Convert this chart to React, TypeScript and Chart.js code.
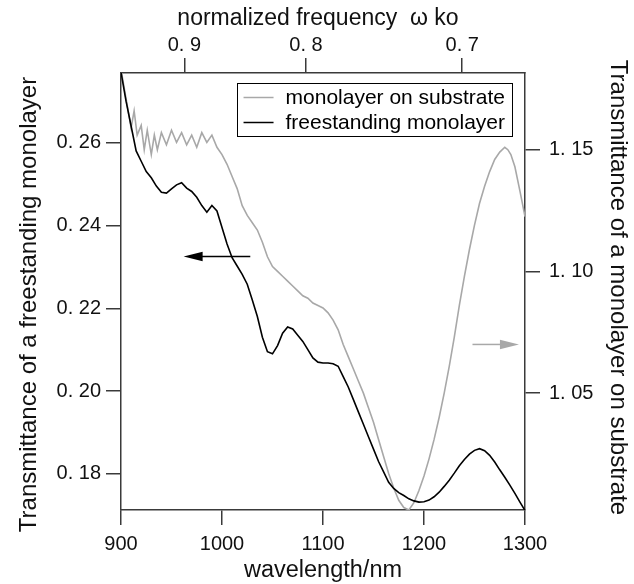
import { useEffect, useRef } from 'react';
import { Chart, registerables } from 'chart.js';

Chart.register(...registerables);

// ---- data ----
const freestandingWavelengths = [
  900, 905, 910, 915, 920, 925, 930, 935, 940, 945, 950, 955, 960, 965, 970, 975, 980, 985, 990, 995,
  1000, 1005, 1010, 1015, 1020, 1025, 1030, 1035, 1040, 1045, 1050, 1055, 1060, 1065, 1070, 1075, 1080,
  1085, 1090, 1095, 1100, 1105, 1110, 1115, 1120, 1125, 1130, 1135, 1140, 1145, 1150, 1155, 1160, 1165,
  1170, 1175, 1180, 1185, 1190, 1195, 1200, 1205, 1210, 1215, 1220, 1225, 1230, 1235, 1240, 1245, 1250,
  1255, 1260, 1265, 1270, 1275, 1280, 1285, 1290, 1295, 1300,
];
const freestandingValues = [
  0.277, 0.27, 0.264, 0.258, 0.2555, 0.253, 0.2515, 0.2495, 0.248, 0.2478, 0.2488, 0.2498, 0.2503, 0.249,
  0.2482, 0.2468, 0.2448, 0.2432, 0.2448, 0.2435, 0.2395, 0.2355, 0.2322, 0.2302, 0.2282, 0.2258, 0.222,
  0.218, 0.213, 0.2095, 0.209, 0.211, 0.214, 0.2155, 0.215, 0.2135, 0.212, 0.21, 0.208, 0.207, 0.2068,
  0.2068, 0.2066, 0.206, 0.2035, 0.201, 0.198, 0.195, 0.192, 0.189, 0.186, 0.183, 0.1805, 0.178, 0.1765,
  0.1755, 0.1748, 0.174, 0.1735, 0.1732, 0.1733, 0.1737, 0.1745, 0.1756, 0.177, 0.1785, 0.1802, 0.182,
  0.1835, 0.1848, 0.1857, 0.1861, 0.1856, 0.1845, 0.1829, 0.181, 0.1792, 0.1773, 0.1753, 0.1732, 0.1712,
];
const substrateWavelengths = [
  900, 905, 910, 913, 916, 920, 923, 926, 930, 933, 936, 940, 945, 950, 955, 960, 965, 970, 975, 980,
  985, 990, 995, 1000, 1005, 1010, 1015, 1020, 1025, 1030, 1035, 1040, 1045, 1050, 1055, 1060, 1065,
  1070, 1075, 1080, 1085, 1090, 1095, 1100, 1105, 1110, 1115, 1120, 1125, 1130, 1135, 1140, 1145, 1150,
  1155, 1160, 1165, 1170, 1175, 1180, 1185, 1190, 1195, 1200, 1205, 1210, 1215, 1220, 1225, 1230, 1235,
  1240, 1245, 1250, 1255, 1260, 1265, 1270, 1275, 1280, 1283, 1286, 1290, 1295, 1300,
];
const substrateValues = [
  1.183, 1.171, 1.159, 1.166, 1.156, 1.16, 1.15, 1.158, 1.148, 1.156, 1.15, 1.157, 1.152, 1.158, 1.153,
  1.157, 1.152, 1.156, 1.151, 1.157, 1.153, 1.156, 1.151, 1.148, 1.144, 1.139, 1.134, 1.127, 1.123, 1.12,
  1.117, 1.112, 1.106, 1.102, 1.1, 1.098, 1.096, 1.094, 1.092, 1.09, 1.089, 1.087, 1.086, 1.085, 1.083,
  1.08, 1.076, 1.07, 1.065, 1.06, 1.055, 1.05, 1.044, 1.038, 1.031, 1.024, 1.017, 1.011, 1.006, 1.003,
  1.002, 1.005, 1.01, 1.016, 1.023, 1.031, 1.04, 1.05, 1.061, 1.073, 1.086, 1.098, 1.109, 1.119, 1.128,
  1.135, 1.141, 1.146, 1.149, 1.151, 1.15, 1.148, 1.143, 1.133, 1.1225,
];

const bottomTicks = [900, 1000, 1100, 1200, 1300];
const leftTicks = [0.18, 0.2, 0.22, 0.24, 0.26];
const rightTicks = [1.05, 1.1, 1.15];
const topTickFrequencies = [0.9, 0.8, 0.7];
const frequencyConstantNm = 866.5; // normalized frequency = constant / wavelength

const seriesLabels = ['monolayer on substrate', 'freestanding monolayer'];
const axisTitles = {
  bottom: 'wavelength/nm',
  top: 'normalized frequency  \u03c9 ko',
  left: 'Transmittance of a freestanding monolayer',
  right: 'Transmittance of a monolayer on substrate',
};
const arrowSpecs = [
  { from: 1028, to: 962, y: 0.2325, axis: 'y', color: '#000000' },
  { from: 1248, to: 1294, y: 1.07, axis: 'yR', color: '#a8a8a8' },
];

const FONT = "'Liberation Sans', Arial, Helvetica, sans-serif";
const AXIS_COLOR = '#3a3a3a';
const GRAY = '#a8a8a8';

const fmtSpaced = (v: number, digits: number) => v.toFixed(digits).replace('.', '. ');

const arrowPlugin = {
  id: 'arrowsPlugin',
  afterDatasetsDraw(chart: any) {
    const ctx = chart.ctx;
    const xs = chart.scales.x;
    arrowSpecs.forEach((a) => {
      const ys = chart.scales[a.axis];
      const x1 = xs.getPixelForValue(a.from);
      const x2 = xs.getPixelForValue(a.to);
      const y = ys.getPixelForValue(a.y);
      const dir = Math.sign(x2 - x1);
      const headLen = 19;
      const headHalf = 4.8;
      ctx.save();
      ctx.strokeStyle = a.color;
      ctx.fillStyle = a.color;
      ctx.lineWidth = 1.5;
      ctx.beginPath();
      ctx.moveTo(x1, y);
      ctx.lineTo(x2 - dir * headLen + dir * 2, y);
      ctx.stroke();
      ctx.beginPath();
      ctx.moveTo(x2, y);
      ctx.lineTo(x2 - dir * headLen, y - headHalf);
      ctx.lineTo(x2 - dir * headLen, y + headHalf);
      ctx.closePath();
      ctx.fill();
      ctx.restore();
    });
  },
};

const titlesPlugin = {
  id: 'axisTitles',
  afterDraw(chart: any) {
    const ctx = chart.ctx;
    const area = chart.chartArea;
    const W = chart.width;
    const H = chart.height;
    const cx = (area.left + area.right) / 2;
    const cy = (area.top + area.bottom) / 2;
    ctx.save();
    ctx.fillStyle = '#111';
    ctx.textAlign = 'center';
    ctx.textBaseline = 'middle';
    // bottom
    ctx.font = `23.5px ${FONT}`;
    ctx.fillText(axisTitles.bottom, cx, H - 13);
    // top
    ctx.font = `23px ${FONT}`;
    ctx.fillText(axisTitles.top, cx - 5, 19);
    // left (reads bottom to top)
    ctx.save();
    ctx.font = `24px ${FONT}`;
    ctx.translate(29, cy + 13);
    ctx.rotate(-Math.PI / 2);
    ctx.fillText(axisTitles.left, 0, 0);
    ctx.restore();
    // right (reads top to bottom)
    ctx.save();
    ctx.font = `24px ${FONT}`;
    ctx.translate(W - 16, cy - 4);
    ctx.rotate(Math.PI / 2);
    ctx.fillText(axisTitles.right, 0, 0);
    ctx.restore();
    ctx.restore();
  },
};

const legendPlugin = {
  id: 'boxLegend',
  afterDraw(chart: any) {
    const ctx = chart.ctx;
    const area = chart.chartArea;
    const fontSize = 21;
    ctx.save();
    ctx.font = `${fontSize}px ${FONT}`;
    const colors = [GRAY, '#000000'];
    const textW = Math.max(...seriesLabels.map((t) => ctx.measureText(t).width));
    const lineLen = 30;
    const gap = 12;
    const padL = 7;
    const padR = 7;
    const rowH = 25;
    const boxW = padL + lineLen + gap + textW + padR;
    const boxH = rowH * seriesLabels.length + 3;
    const right = area.right - 13;
    const left = right - boxW;
    const top = area.top + 10;
    ctx.fillStyle = '#ffffff';
    ctx.fillRect(left, top, boxW, boxH);
    ctx.strokeStyle = '#000000';
    ctx.lineWidth = 1;
    ctx.strokeRect(Math.round(left) + 0.5, Math.round(top) + 0.5, Math.round(boxW), Math.round(boxH));
    seriesLabels.forEach((label, i) => {
      const cy = top + 2 + rowH * i + rowH / 2;
      ctx.strokeStyle = colors[i];
      ctx.lineWidth = 1.5;
      ctx.beginPath();
      ctx.moveTo(left + padL, cy);
      ctx.lineTo(left + padL + lineLen, cy);
      ctx.stroke();
      ctx.fillStyle = '#000000';
      ctx.textBaseline = 'middle';
      ctx.textAlign = 'left';
      ctx.fillText(label, left + padL + lineLen + gap, cy + 1);
    });
    ctx.restore();
  },
};

const tickFont = { family: FONT, size: 20 };

export default function App() {
  const canvasRef = useRef<HTMLCanvasElement | null>(null);

  useEffect(() => {
    if (!canvasRef.current) return;
    const gridOpts = {
      drawOnChartArea: false,
      drawTicks: true,
      tickLength: 15,
      color: AXIS_COLOR,
      lineWidth: 1.5,
    };
    const borderOpts = { display: true, color: AXIS_COLOR, width: 1.5 };
    const chart = new Chart(canvasRef.current, {
      type: 'line',
      data: {
        datasets: [
          {
            label: seriesLabels[1],
            data: freestandingWavelengths.map((x, i) => ({ x, y: freestandingValues[i] })),
            borderColor: '#000000',
            borderWidth: 1.6,
            pointRadius: 0,
            yAxisID: 'y',
            xAxisID: 'x',
            tension: 0,
          },
          {
            label: seriesLabels[0],
            data: substrateWavelengths.map((x, i) => ({ x, y: substrateValues[i] })),
            borderColor: GRAY,
            borderWidth: 1.6,
            pointRadius: 0,
            yAxisID: 'yR',
            xAxisID: 'x',
            tension: 0,
          },
        ],
      },
      options: {
        responsive: false,
        animation: false,
        layout: { padding: 0 },
        plugins: { legend: { display: false }, tooltip: { enabled: false } },
        scales: {
          x: {
            type: 'linear',
            position: 'bottom',
            min: 900,
            max: 1300,
            afterBuildTicks: (s: any) => {
              s.ticks = bottomTicks.map((v) => ({ value: v }));
            },
            afterFit: (s: any) => {
              s.height = 74;
            },
            ticks: {
              autoSkip: false,
              maxRotation: 0,
              padding: 7,
              color: '#111',
              font: tickFont,
              callback: (v: any) => String(v),
            },
            grid: gridOpts,
            border: borderOpts,
          },
          x2: {
            type: 'linear',
            position: 'top',
            display: true,
            min: 900,
            max: 1300,
            afterBuildTicks: (s: any) => {
              s.ticks = topTickFrequencies.map((f) => ({ value: frequencyConstantNm / f }));
            },
            afterFit: (s: any) => {
              s.height = 73;
            },
            ticks: {
              autoSkip: false,
              maxRotation: 0,
              padding: 1,
              color: '#111',
              font: tickFont,
              callback: (v: any) => fmtSpaced(frequencyConstantNm / Number(v), 1),
            },
            grid: gridOpts,
            border: borderOpts,
          },
          y: {
            type: 'linear',
            position: 'left',
            min: 0.1713,
            max: 0.2768,
            afterBuildTicks: (s: any) => {
              s.ticks = leftTicks.map((v) => ({ value: v }));
            },
            afterFit: (s: any) => {
              s.width = 121;
            },
            ticks: {
              autoSkip: false,
              padding: 5,
              color: '#111',
              font: tickFont,
              callback: (v: any) => fmtSpaced(Number(v), 2),
            },
            grid: gridOpts,
            border: borderOpts,
          },
          yR: {
            type: 'linear',
            position: 'right',
            min: 1.002,
            max: 1.1815,
            afterBuildTicks: (s: any) => {
              s.ticks = rightTicks.map((v) => ({ value: v }));
            },
            afterFit: (s: any) => {
              s.width = 109;
            },
            ticks: {
              autoSkip: false,
              padding: 9,
              color: '#111',
              font: tickFont,
              callback: (v: any) => fmtSpaced(Number(v), 2),
            },
            grid: gridOpts,
            border: borderOpts,
          },
        },
      },
      plugins: [arrowPlugin, legendPlugin, titlesPlugin],
    } as any);
    return () => chart.destroy();
  }, []);

  return (
    <div style={{ position: 'fixed', left: 0, top: 0, width: 634, height: 584, background: '#fff' }}>
      <canvas ref={canvasRef} width={634} height={584} style={{ display: 'block' }} />
    </div>
  );
}
